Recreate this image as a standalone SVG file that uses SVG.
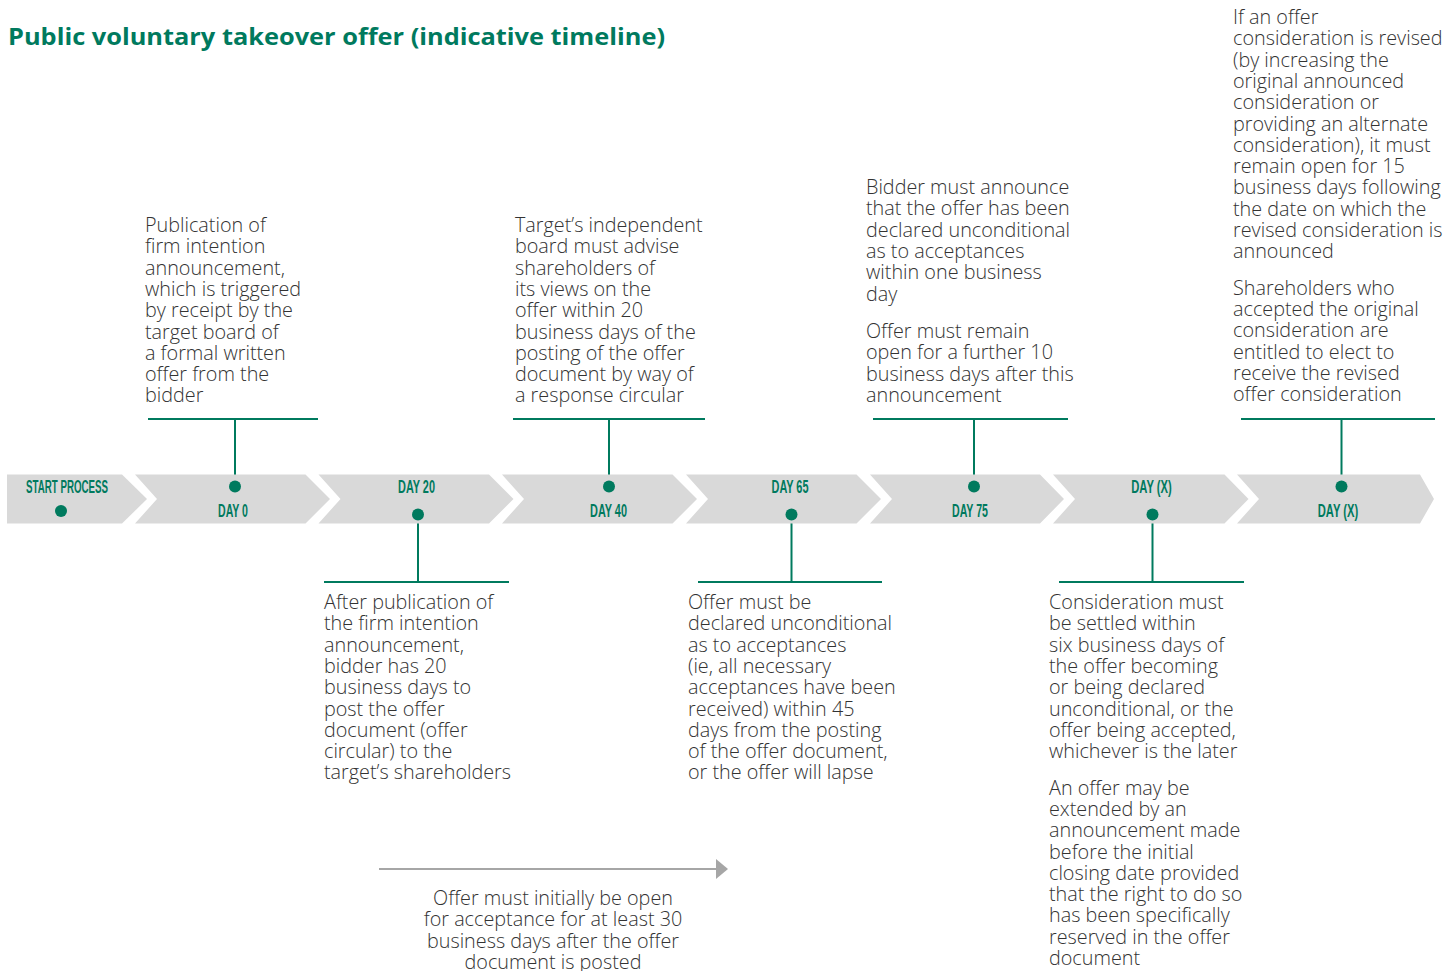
<svg xmlns="http://www.w3.org/2000/svg" width="1456" height="971" viewBox="0 0 1456 971">
<style>
.bg{fill:#ffffff}
.chev{fill:#d9d9d9}
.title{font-family:"Open Sans","Liberation Sans",sans-serif;font-weight:700;font-size:23px;fill:#007a5e}
.day{font-family:"Liberation Sans",sans-serif;font-weight:700;font-size:18.5px;fill:#007a5e}
.body{font-family:"Open Sans","Liberation Sans",sans-serif;font-weight:300;font-size:19.8px;fill:#333333}
.dot{fill:#007a5e}
.conn{stroke:#007a5e;stroke-width:2;fill:none}
.garrow{stroke:#a6a6a6;stroke-width:2;fill:none}
</style>
<defs>
<marker id="gray-head" markerWidth="12" markerHeight="20" refX="0" refY="10" orient="auto" markerUnits="userSpaceOnUse">
<path d="M0,0 L12,10 L0,20 Z" fill="#a6a6a6"/>
</marker>
</defs>
<rect class="bg" x="0" y="0" width="1456" height="971"/>
<text class="title" x="8" y="45" textLength="657" lengthAdjust="spacingAndGlyphs">Public voluntary takeover offer (indicative timeline)</text>

<g id="connectors">
<line class="conn" x1="148" y1="419" x2="318" y2="419"/>
<line class="conn" x1="235" y1="419" x2="235" y2="486"/>
<line class="conn" x1="324" y1="582" x2="509" y2="582"/>
<line class="conn" x1="418" y1="514" x2="418" y2="582"/>
<line class="conn" x1="513" y1="419" x2="705" y2="419"/>
<line class="conn" x1="609" y1="419" x2="609" y2="486"/>
<line class="conn" x1="698" y1="582" x2="882" y2="582"/>
<line class="conn" x1="791.5" y1="514" x2="791.5" y2="582"/>
<line class="conn" x1="873" y1="419" x2="1068" y2="419"/>
<line class="conn" x1="974" y1="419" x2="974" y2="486"/>
<line class="conn" x1="1059" y1="582" x2="1244" y2="582"/>
<line class="conn" x1="1152.5" y1="514" x2="1152.5" y2="582"/>
<line class="conn" x1="1241" y1="419" x2="1435" y2="419"/>
<line class="conn" x1="1341.5" y1="419" x2="1341.5" y2="486"/>
<line class="garrow" x1="379" y1="869" x2="716" y2="869" marker-end="url(#gray-head)"/>
</g>

<g id="start">
<polygon class="chev" points="7,474.5 122,474.5 147,499 122,523.5 7,523.5"/>
<text class="day" x="67" y="493" text-anchor="middle" textLength="82" lengthAdjust="spacingAndGlyphs">START PROCESS</text>
<circle class="dot" cx="61" cy="511" r="6"/>
</g>

<g id="day0">
<polygon class="chev" points="135,474.5 305.5,474.5 330,499 305.5,523.5 135,523.5 157,499"/>
<text class="day" x="233" y="517" text-anchor="middle" textLength="30" lengthAdjust="spacingAndGlyphs">DAY 0</text>
<circle class="dot" cx="235" cy="486.5" r="6"/>
<text class="body" x="145" y="232"><tspan x="145">Publication of</tspan><tspan x="145" dy="21.3">firm intention</tspan><tspan x="145" dy="21.3">announcement,</tspan><tspan x="145" dy="21.3">which is triggered</tspan><tspan x="145" dy="21.3">by receipt by the</tspan><tspan x="145" dy="21.3">target board of</tspan><tspan x="145" dy="21.3">a formal written</tspan><tspan x="145" dy="21.3">offer from the</tspan><tspan x="145" dy="21.3">bidder</tspan></text>
</g>

<g id="day20">
<polygon class="chev" points="318.5,474.5 489,474.5 513.5,499 489,523.5 318.5,523.5 340.5,499"/>
<text class="day" x="416.5" y="493" text-anchor="middle" textLength="37" lengthAdjust="spacingAndGlyphs">DAY 20</text>
<circle class="dot" cx="418" cy="514.5" r="6"/>
<text class="body" x="324" y="609"><tspan x="324">After publication of</tspan><tspan x="324" dy="21.3">the firm intention</tspan><tspan x="324" dy="21.3">announcement,</tspan><tspan x="324" dy="21.3">bidder has 20</tspan><tspan x="324" dy="21.3">business days to</tspan><tspan x="324" dy="21.3">post the offer</tspan><tspan x="324" dy="21.3">document (offer</tspan><tspan x="324" dy="21.3">circular) to the</tspan><tspan x="324" dy="21.3">target’s shareholders</tspan></text>
</g>

<g id="day40">
<polygon class="chev" points="502,474.5 672.5,474.5 697,499 672.5,523.5 502,523.5 524,499"/>
<text class="day" x="608.5" y="517" text-anchor="middle" textLength="37" lengthAdjust="spacingAndGlyphs">DAY 40</text>
<circle class="dot" cx="609" cy="486.5" r="6"/>
<text class="body" x="515" y="232"><tspan x="515">Target’s independent</tspan><tspan x="515" dy="21.3">board must advise</tspan><tspan x="515" dy="21.3">shareholders of</tspan><tspan x="515" dy="21.3">its views on the</tspan><tspan x="515" dy="21.3">offer within 20</tspan><tspan x="515" dy="21.3">business days of the</tspan><tspan x="515" dy="21.3">posting of the offer</tspan><tspan x="515" dy="21.3">document by way of</tspan><tspan x="515" dy="21.3">a response circular</tspan></text>
</g>

<g id="day65">
<polygon class="chev" points="686,474.5 856.5,474.5 881,499 856.5,523.5 686,523.5 708,499"/>
<text class="day" x="790" y="493" text-anchor="middle" textLength="37" lengthAdjust="spacingAndGlyphs">DAY 65</text>
<circle class="dot" cx="791.5" cy="514.5" r="6"/>
<text class="body" x="688" y="609"><tspan x="688">Offer must be</tspan><tspan x="688" dy="21.3">declared unconditional</tspan><tspan x="688" dy="21.3">as to acceptances</tspan><tspan x="688" dy="21.3">(ie, all necessary</tspan><tspan x="688" dy="21.3">acceptances have been</tspan><tspan x="688" dy="21.3">received) within 45</tspan><tspan x="688" dy="21.3">days from the posting</tspan><tspan x="688" dy="21.3">of the offer document,</tspan><tspan x="688" dy="21.3">or the offer will lapse</tspan></text>
</g>

<g id="day75">
<polygon class="chev" points="870,474.5 1040,474.5 1064,499 1040,523.5 870,523.5 892,499"/>
<text class="day" x="970" y="517" text-anchor="middle" textLength="36" lengthAdjust="spacingAndGlyphs">DAY 75</text>
<circle class="dot" cx="974" cy="486.5" r="6"/>
<text class="body" x="866" y="194"><tspan x="866">Bidder must announce</tspan><tspan x="866" dy="21.3">that the offer has been</tspan><tspan x="866" dy="21.3">declared unconditional</tspan><tspan x="866" dy="21.3">as to acceptances</tspan><tspan x="866" dy="21.3">within one business</tspan><tspan x="866" dy="21.3">day</tspan><tspan x="866" dy="37.5">Offer must remain</tspan><tspan x="866" dy="21.3">open for a further 10</tspan><tspan x="866" dy="21.3">business days after this</tspan><tspan x="866" dy="21.3">announcement</tspan></text>
</g>

<g id="dayx1">
<polygon class="chev" points="1053,474.5 1224.5,474.5 1248.5,499 1224.5,523.5 1053,523.5 1075,499"/>
<text class="day" x="1151.5" y="493" text-anchor="middle" textLength="40.5" lengthAdjust="spacingAndGlyphs">DAY (X)</text>
<circle class="dot" cx="1152.5" cy="514.5" r="6"/>
<text class="body" x="1049" y="609"><tspan x="1049">Consideration must</tspan><tspan x="1049" dy="21.3">be settled within</tspan><tspan x="1049" dy="21.3">six business days of</tspan><tspan x="1049" dy="21.3">the offer becoming</tspan><tspan x="1049" dy="21.3">or being declared</tspan><tspan x="1049" dy="21.3">unconditional, or the</tspan><tspan x="1049" dy="21.3">offer being accepted,</tspan><tspan x="1049" dy="21.3">whichever is the later</tspan><tspan x="1049" dy="36.5">An offer may be</tspan><tspan x="1049" dy="21.3">extended by an</tspan><tspan x="1049" dy="21.3">announcement made</tspan><tspan x="1049" dy="21.3">before the initial</tspan><tspan x="1049" dy="21.3">closing date provided</tspan><tspan x="1049" dy="21.3">that the right to do so</tspan><tspan x="1049" dy="21.3">has been specifically</tspan><tspan x="1049" dy="21.3">reserved in the offer</tspan><tspan x="1049" dy="21.3">document</tspan></text>
</g>

<g id="dayx2">
<polygon class="chev" points="1237,474.5 1420,474.5 1434,499 1420,523.5 1237,523.5 1259,499"/>
<text class="day" x="1338" y="517" text-anchor="middle" textLength="40.5" lengthAdjust="spacingAndGlyphs">DAY (X)</text>
<circle class="dot" cx="1341.5" cy="486.5" r="6"/>
<text class="body" x="1233" y="24"><tspan x="1233">If an offer</tspan><tspan x="1233" dy="21.3">consideration is revised</tspan><tspan x="1233" dy="21.3">(by increasing the</tspan><tspan x="1233" dy="21.3">original announced</tspan><tspan x="1233" dy="21.3">consideration or</tspan><tspan x="1233" dy="21.3">providing an alternate</tspan><tspan x="1233" dy="21.3">consideration), it must</tspan><tspan x="1233" dy="21.3">remain open for 15</tspan><tspan x="1233" dy="21.3">business days following</tspan><tspan x="1233" dy="21.3">the date on which the</tspan><tspan x="1233" dy="21.3">revised consideration is</tspan><tspan x="1233" dy="21.3">announced</tspan><tspan x="1233" dy="36.5">Shareholders who</tspan><tspan x="1233" dy="21.3">accepted the original</tspan><tspan x="1233" dy="21.3">consideration are</tspan><tspan x="1233" dy="21.3">entitled to elect to</tspan><tspan x="1233" dy="21.3">receive the revised</tspan><tspan x="1233" dy="21.3">offer consideration</tspan></text>
</g>

<g id="period-note">
<text class="body" x="553" y="905" text-anchor="middle"><tspan x="553">Offer must initially be open</tspan><tspan x="553" dy="21.3">for acceptance for at least 30</tspan><tspan x="553" dy="21.3">business days after the offer</tspan><tspan x="553" dy="21.3">document is posted</tspan></text>
</g>
</svg>
